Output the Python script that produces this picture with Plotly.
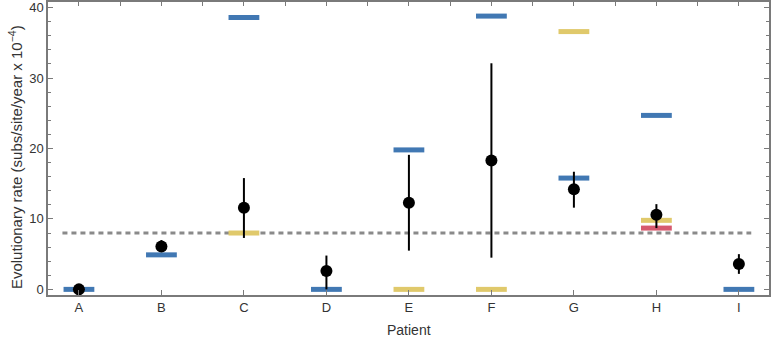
import plotly.graph_objects as go
import numpy as np

patients = ["A", "B", "C", "D", "E", "F", "G", "H", "I"]
estimate = [0.0, 6.1, 11.6, 2.6, 12.3, 18.3, 14.2, 10.6, 3.6]
lower = [-0.6, 5.3, 7.3, 0.0, 5.5, 4.5, 11.6, 8.7, 2.2]
upper = [0.6, 7.0, 15.8, 4.8, 19.1, 32.1, 16.7, 12.1, 5.0]

blue_patients = ["A", "B", "C", "D", "E", "F", "G", "H", "I"]
blue_values = [0.0, 4.9, 38.6, 0.0, 19.8, 38.8, 15.8, 24.7, 0.0]
yellow_patients = ["C", "E", "F", "G", "H"]
yellow_values = [8.0, 0.0, 0.0, 36.6, 9.8]
red_patients = ["H"]
red_values = [8.7]

reference_rate = 8.0
y_ticks = [0, 10, 20, 30, 40]

BLUE = "#4178b3"
YELLOW = "#e0c96b"
RED = "#d65a6e"
AXIS = "#7a7a7a"
TXT = "#333333"
FONT = "Liberation Sans, Arial, sans-serif"

fig = go.Figure()

def bars(xs, ys, color):
    fig.add_trace(go.Scatter(
        x=xs, y=ys, mode="markers",
        marker=dict(symbol="line-ew", size=22, line=dict(color=color, width=5)),
        hoverinfo="skip", showlegend=False))

bars(blue_patients, blue_values, BLUE)
bars(yellow_patients, yellow_values, YELLOW)
bars(red_patients, red_values, RED)

plus = [u - e for u, e in zip(upper, estimate)]
minus = [e - l for e, l in zip(estimate, lower)]
fig.add_trace(go.Scatter(
    x=patients, y=estimate, mode="markers",
    marker=dict(color="black", size=12),
    error_y=dict(type="data", array=plus, arrayminus=minus, symmetric=False,
                 color="black", thickness=2, width=0),
    showlegend=False))

# invisible trace for top mirror axis
fig.add_trace(go.Scatter(x=[0], y=[0], xaxis="x2", mode="markers",
                         marker=dict(opacity=0), hoverinfo="skip", showlegend=False))

xr = [-0.375, 8.365]
fig.add_shape(type="line", xref="x", yref="y", x0=-0.2, x1=8.15,
              y0=reference_rate, y1=reference_rate,
              line=dict(color="#8a8a8a", width=3, dash="5px,4px"), layer="below")

fig.add_annotation(text="Patient", xref="paper", yref="paper", x=0.5, y=-0.118,
                   xanchor="center", yanchor="middle", showarrow=False,
                   font=dict(size=14, color=TXT))
fig.add_annotation(text="Evolutionary rate (subs/site/year x 10<sup>\u22124</sup>)",
                   xref="paper", yref="paper", x=-0.046, y=0.47, textangle=-90,
                   xanchor="center", yanchor="middle", showarrow=False,
                   font=dict(size=15, color=TXT))

fig.update_layout(
    width=771, height=338,
    margin=dict(l=48, r=2, t=2, b=43),
    plot_bgcolor="white", paper_bgcolor="white",
    font=dict(family=FONT, size=12, color=TXT),
    hovermode=False,
    xaxis=dict(
        type="category", range=xr, showgrid=False, zeroline=False, automargin=False,
        showline=True, linecolor=AXIS, linewidth=1.5,
        ticks="inside", ticklen=5, tickcolor=AXIS, tickwidth=1,
        tickfont=dict(size=13), ticklabeloverflow="allow",
    ),
    xaxis2=dict(
        overlaying="x", side="top", range=xr, showgrid=False, zeroline=False,
        automargin=False,
        showline=True, linecolor=AXIS, linewidth=1.5,
        tickmode="array", tickvals=list(np.arange(0, 8.01, 0.5)),
        showticklabels=False, ticks="inside", ticklen=4, tickcolor=AXIS,
    ),
    yaxis=dict(
        range=[-0.8, 40.8], tickvals=y_ticks, showgrid=False, zeroline=False,
        automargin=False,
        showline=True, linecolor=AXIS, linewidth=1.5, mirror="ticks",
        ticks="inside", ticklen=5, tickcolor=AXIS, tickwidth=1,
        minor=dict(dtick=2, ticks="inside", ticklen=3, tickcolor=AXIS, showgrid=False),
        tickfont=dict(size=13), ticklabeloverflow="allow",
    ),
)

fig.write_html("out.html", config={"displayModeBar": False},
               post_script="document.body.style.margin='0';")
